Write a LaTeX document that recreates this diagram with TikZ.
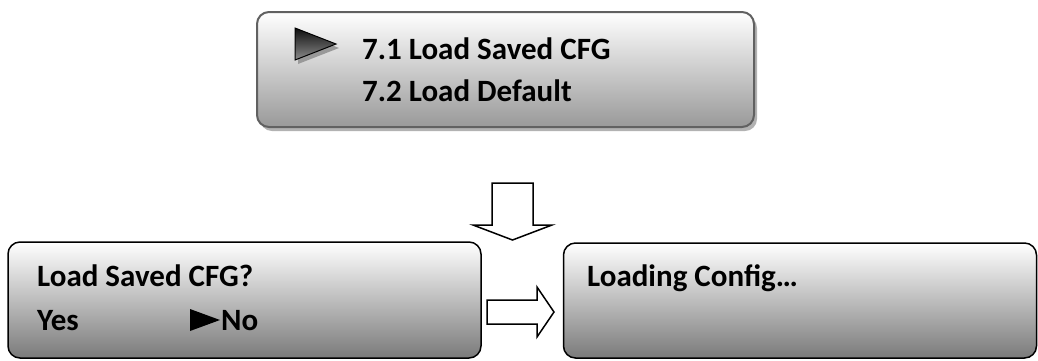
\documentclass[tikz,border=0pt]{standalone}
\usepackage{fontspec}
\setmainfont{Carlito}
\usetikzlibrary{shadows}
\begin{document}
\begin{tikzpicture}[x=1pt,y=-1pt,
  lcd/.style={draw=black, line width=1.5pt, rounded corners=12pt, top color=white, bottom color=black!52, shading angle=0},
  topbox/.style={draw=black!62, line width=2pt, rounded corners=12pt, top color=white, bottom color=black!40,
     drop shadow={shadow xshift=3pt, shadow yshift=-4pt, fill=black!30, opacity=1}},
  txt/.style={anchor=base west, inner sep=0pt, font=\fontsize{31}{37}\selectfont\bfseries},
  blockarrow/.style={draw=black, line width=1.5pt, fill=white, line join=miter},
  pointer/.style={draw=black, line width=1pt, top color=black!95, bottom color=black!45},
  pointershadow/.style={fill=black!40}
]
\useasboundingbox (0,0) rectangle (1038,360);
% top menu
\node[topbox, minimum width=497pt, minimum height=115pt] (menu) at (505.5,69.5) {};
\fill[pointershadow] (298,32) -- (339,48) -- (298,64) -- cycle;
\shade[pointer] (295,28) -- (336,44) -- (295,60) -- cycle;
\node[txt] (m1) at (362,59) {7.1 Load Saved CFG};
\node[txt] (m2) at (362,101) {7.2 Load Default};
% down arrow
\coordinate (d1) at (492,183);
\coordinate (d2) at (533,183);
\coordinate (d3) at (533,225);
\coordinate (d4) at (552,225);
\coordinate (dt) at (512.5,240);
\coordinate (d5) at (473,225);
\coordinate (d6) at (492,225);
\draw[blockarrow] (d1) -- (d2) -- (d3) -- (d4) -- (dt) -- (d5) -- (d6) -- cycle;
% bottom left box
\node[lcd, minimum width=473pt, minimum height=116pt] (ask) at (244.5,300) {};
\node[txt] (q) at (37,286) {Load Saved CFG?};
\node[txt] (yes) at (37,330) {Yes};
\fill[black] (190,309) -- (220,320) -- (190,331) -- cycle;
\node[txt] (no) at (221,330) {No};
% right arrow
\coordinate (r1) at (487,300);
\coordinate (r2) at (537,300);
\coordinate (r3) at (537,287);
\coordinate (rt) at (554,312);
\coordinate (r4) at (537,337);
\coordinate (r5) at (537,324);
\coordinate (r6) at (487,324);
\draw[blockarrow] (r1) -- (r2) -- (r3) -- (rt) -- (r4) -- (r5) -- (r6) -- cycle;
% bottom right box
\node[lcd, minimum width=473pt, minimum height=115pt] (load) at (800,300.5) {};
\node[txt] (lc) at (587,286) {Loading Config…};
\end{tikzpicture}
\end{document}
